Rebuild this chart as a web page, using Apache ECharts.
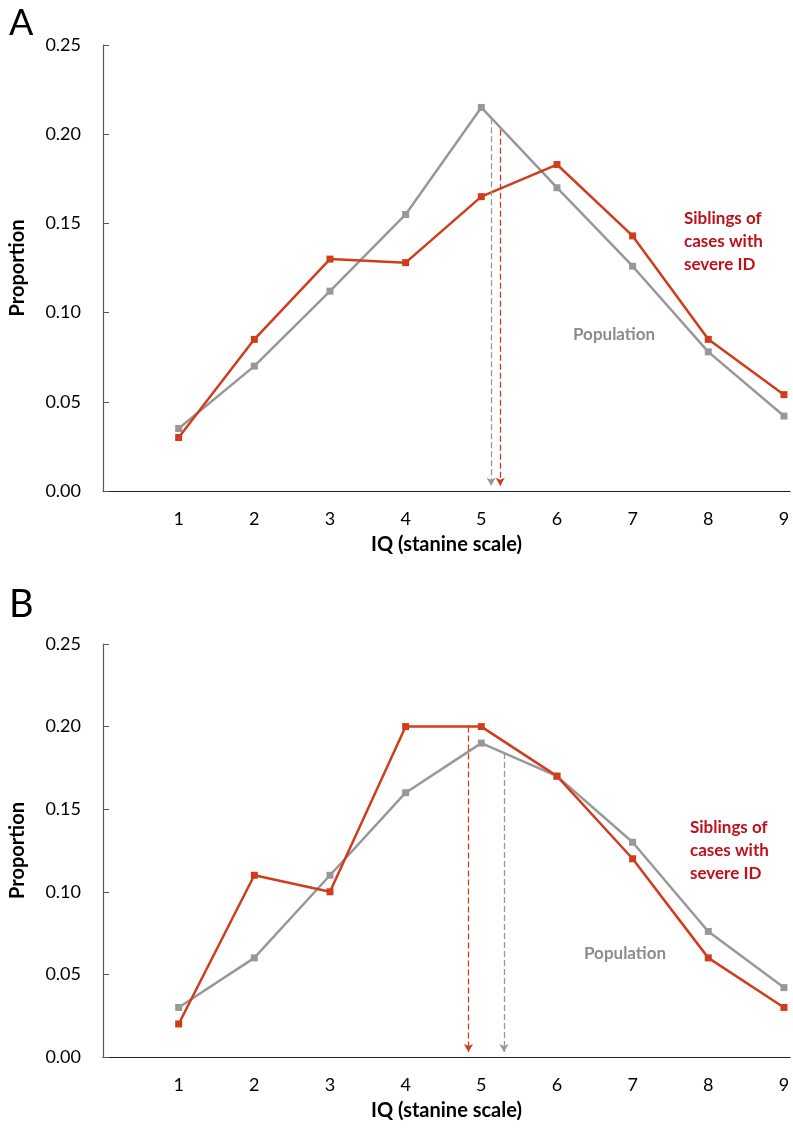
<!DOCTYPE html>
<html>
<head>
<meta charset="utf-8">
<script src="https://cdn.jsdelivr.net/npm/echarts@6/dist/echarts.min.js"></script>
<style>
  html, body { margin: 0; padding: 0; background: #fff; }
  #chart { width: 793px; height: 1128px; }
</style>
</head>
<body>
<div id="chart"></div>
<script>
// stanine categories
var stanine = [1, 2, 3, 4, 5, 6, 7, 8, 9]

// panel A
var popA = [0.035, 0.070, 0.112, 0.155, 0.215, 0.170, 0.126, 0.078, 0.042]
var sibA = [0.030, 0.085, 0.130, 0.128, 0.165, 0.183, 0.143, 0.085, 0.054]
// mean markers: [x, top of dashed line]
var popMeanA = [5.13, 0.209]
var sibMeanA = [5.25, 0.2025]

// panel B
var popB = [0.030, 0.060, 0.110, 0.160, 0.190, 0.170, 0.130, 0.076, 0.042]
var sibB = [0.020, 0.110, 0.100, 0.200, 0.200, 0.170, 0.120, 0.060, 0.030]
var popMeanB = [5.30, 0.184]
var sibMeanB = [4.83, 0.200]

var yTicks = [0, 0.05, 0.10, 0.15, 0.20, 0.25]

var RED = '#d13c1d'
var GREY = '#989898'
var FONT = 'Lato, "Open Sans", sans-serif'

function pairs(vals) {
  return stanine.map(function (s, i) { return [s, vals[i]] })
}

function meanLine(m, color) {
  return {
    silent: true,
    symbol: ['none', 'arrow'],
    symbolSize: [7, 8],
    label: { show: false },
    lineStyle: { type: [6, 3], width: 1.3, color: color },
    data: [[{ coord: [m[0], m[1]] }, { coord: [m[0], 0.003] }]]
  }
}

function xAx(idx) {
  return {
    gridIndex: idx,
    type: 'value',
    min: 0,
    max: 9.08,
    interval: 1,
    name: 'IQ (stanine scale)',
    nameLocation: 'middle',
    nameGap: 44,
    nameTextStyle: { fontFamily: FONT, fontSize: 20, fontWeight: 'bold', color: '#000' },
    axisLine: { lineStyle: { color: '#222', width: 1.2 } },
    axisTick: { show: false },
    splitLine: { show: false },
    axisLabel: {
      margin: 19,
      fontFamily: FONT, fontSize: 18, color: '#000',
      formatter: function (v) { return (v >= 1 && v <= 9 && Math.round(v) === v) ? String(v) : '' }
    }
  }
}

function yAx(idx) {
  return {
    gridIndex: idx,
    type: 'value',
    min: yTicks[0],
    max: yTicks[yTicks.length - 1],
    interval: 0.05,
    name: 'Proportion',
    nameLocation: 'middle',
    nameRotate: 90,
    nameGap: 75,
    nameTextStyle: { fontFamily: FONT, fontSize: 20, fontWeight: 'bold', color: '#000' },
    axisLine: { show: true, lineStyle: { color: '#595959', width: 1.2 } },
    axisTick: { show: true, inside: true, length: 6, lineStyle: { color: '#595959' } },
    splitLine: { show: false },
    axisLabel: {
      margin: 22,
      fontFamily: FONT, fontSize: 18, color: '#000',
      formatter: function (v) { return v.toFixed(2) }
    }
  }
}

function lineSeries(name, vals, color, idx, mean) {
  return {
    name: name,
    type: 'line',
    xAxisIndex: idx,
    yAxisIndex: idx,
    data: pairs(vals),
    symbol: 'rect',
    symbolSize: 7,
    showAllSymbol: true,
    lineStyle: { color: color, width: 2.5 },
    itemStyle: { color: color },
    markLine: meanLine(mean, color)
  }
}

function txt(x, y, text, color, size, weight) {
  return {
    type: 'text', left: x, top: y,
    style: { text: text, fill: color, font: weight + ' ' + size + 'px ' + FONT, lineHeight: 23 }
  }
}

var myChart = echarts.init(document.getElementById('chart'))
var option = {
  animation: false,
  grid: [
    { left: 94, right: 0, top: 45, height: 446 },
    { left: 94, right: 0, top: 644, height: 413 }
  ],
  xAxis: [xAx(0), xAx(1)],
  yAxis: [yAx(0), yAx(1)],
  series: [
    lineSeries('Population', popA, GREY, 0, popMeanA),
    lineSeries('Siblings', sibA, RED, 0, sibMeanA),
    lineSeries('Population', popB, GREY, 1, popMeanB),
    lineSeries('Siblings', sibB, RED, 1, sibMeanB)
  ],
  graphic: [
    txt(9, 5, 'A', '#000', 36, 'normal'),
    txt(9, 586, 'B', '#000', 38, 'normal'),
    txt(684, 207, 'Siblings of\ncases with\nsevere ID', '#c0101a', 17, 'bold'),
    txt(573, 323, 'Population', '#8c8c8c', 17, 'bold'),
    txt(690, 816, 'Siblings of\ncases with\nsevere ID', '#c0101a', 17, 'bold'),
    txt(584, 942, 'Population', '#8c8c8c', 17, 'bold')
  ]
}
myChart.setOption(option)
</script>
</body>
</html>
